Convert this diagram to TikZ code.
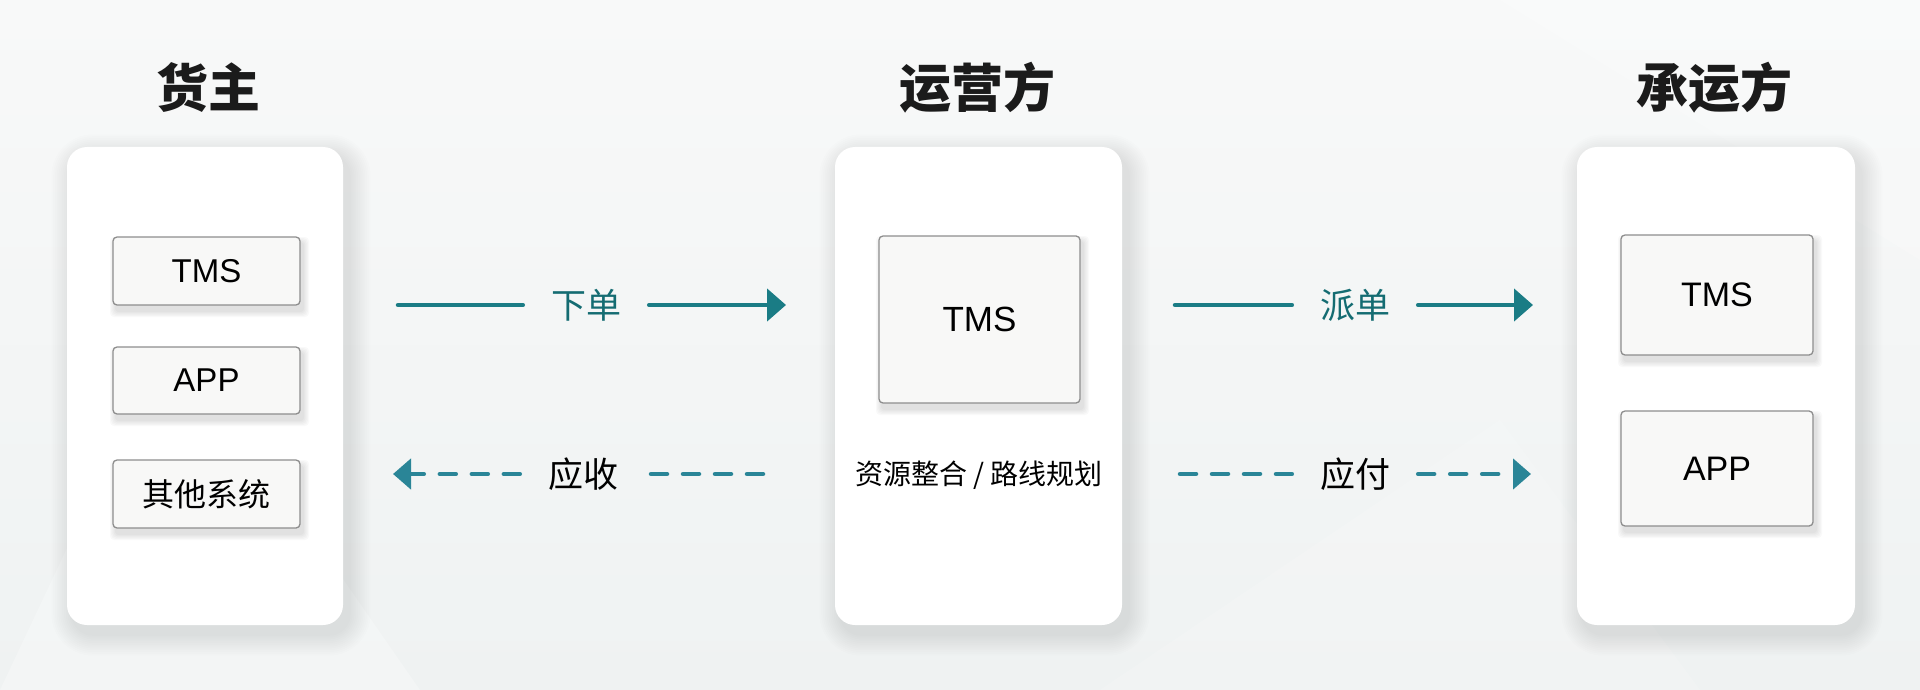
\documentclass[tikz,border=0pt]{standalone}
\usepackage{fontspec}
\setmainfont{Liberation Sans}
\newfontfamily\cjk{Noto Sans CJK SC}
\usetikzlibrary{arrows.meta}
\definecolor{bgtop}{HTML}{F8F9F9}
\definecolor{bgbot}{HTML}{EFF2F2}
\definecolor{solidteal}{HTML}{1A7C85}
\definecolor{dashteal}{HTML}{2A8597}
\definecolor{labteal}{HTML}{146C72}
\definecolor{boxgray}{HTML}{8E8E8E}
\definecolor{boxfill}{HTML}{F8F8F7}
\definecolor{titleblack}{HTML}{1B1B1B}
\newcommand\mkshadow[5]{%
  \foreach \i in {1,...,12}{%
    \pgfmathsetmacro\s{1.8*\i}%
    \pgfmathsetmacro\r{#5+\s}%
    \fill[black,opacity=0.008,rounded corners=\r pt]
      (#1+6-\s,#2+9-\s) rectangle (#3+6+\s,#4+9+\s);
  }%
}
\newcommand\mkboxshadow[4]{%
  \foreach \i in {1,...,5}{%
    \pgfmathsetmacro\s{1.2*\i}%
    \fill[black,opacity=0.022,rounded corners=4pt]
      (#1+3-\s,#2+6-\s) rectangle (#3+3+\s,#4+6+\s);
  }%
}
\begin{document}
\begin{tikzpicture}[x=1pt,y=-1pt,
  panel/.style={fill=white,draw=none,rounded corners=20pt,inner sep=0pt},
  ibox/.style={draw=boxgray,line width=1.3pt,fill=boxfill,rounded corners=4pt,inner sep=0pt,text=black},
  titletext/.style={font=\cjk\bfseries\fontsize{52}{60}\selectfont,text=titleblack,inner sep=0pt},
  flowlab/.style={font=\cjk\fontsize{35}{40}\selectfont,inner xsep=28pt,inner ysep=4pt},
  solidarrow/.style={draw=solidteal,line width=4.5pt,line cap=round},
  dasharrow/.style={draw=dashteal,line width=4.5pt,line cap=round,dash pattern=on 16pt off 16pt},
]
\useasboundingbox (0,0) rectangle (1920,690);
\shade[top color=bgtop,bottom color=bgbot] (0,0) rectangle (1920,690);
% faint facets
\fill[white,opacity=0.25] (0,690) -- (170,330) -- (420,690) -- cycle;
\fill[white,opacity=0.2] (1500,0) -- (1920,0) -- (1920,260) -- cycle;
\fill[white,opacity=0.15] (1100,690) -- (1500,420) -- (1700,690) -- cycle;

% panel shadows
\mkshadow{67}{147}{343}{625}{20}
\mkshadow{835}{147}{1122}{625}{20}
\mkshadow{1577}{147}{1855}{625}{20}

% panels
\node[panel,minimum width=276pt,minimum height=478pt] (p1) at (205,386) {};
\node[panel,minimum width=287pt,minimum height=478pt] (p2) at (978.5,386) {};
\node[panel,minimum width=278pt,minimum height=478pt] (p3) at (1716,386) {};

% titles
\node[titletext] (t1) at (208,88) {货主};
\node[titletext] (t2) at (977,88) {运营方};
\node[titletext] (t3) at (1714,88) {承运方};

% inner box shadows
\mkboxshadow{113}{237}{300}{305}
\mkboxshadow{113}{347}{300}{414}
\mkboxshadow{113}{460}{300}{528}
\mkboxshadow{879}{236}{1080}{403}
\mkboxshadow{1621}{235}{1813}{355}
\mkboxshadow{1621}{411}{1813}{526}

% left boxes
\node[ibox,minimum width=187pt,minimum height=68pt,font=\fontsize{33}{38}\selectfont] (l1) at (206.5,271) {TMS};
\node[ibox,minimum width=187pt,minimum height=67pt,font=\fontsize{33}{38}\selectfont] (l2) at (206.5,380.5) {APP};
\node[ibox,minimum width=187pt,minimum height=68pt,font=\cjk\fontsize{32}{38}\selectfont] (l3) at (206.5,494) {其他系统};

% middle box
\node[ibox,minimum width=201pt,minimum height=167pt,font=\fontsize{35}{40}\selectfont] (m1) at (979.5,319.5) {TMS};
\node[font=\cjk\fontsize{28}{32}\selectfont,text=black,inner sep=0pt] (m2) at (979,475) {资源整合 / 路线规划};

% right boxes
\node[ibox,minimum width=192pt,minimum height=120pt,font=\fontsize{34}{40}\selectfont] (r1) at (1717,295) {TMS};
\node[ibox,minimum width=192pt,minimum height=115pt,font=\fontsize{34}{40}\selectfont] (r2) at (1717,468.5) {APP};

% flow labels
\node[flowlab,text=labteal] (f1) at (586,305) {下单};
\node[flowlab,text=black] (f2) at (583,474) {应收};
\node[flowlab,text=labteal] (f3) at (1355,305) {派单};
\node[flowlab,text=black] (f4) at (1355,474) {应付};

% connector end points
\coordinate (f1s) at (398,305);
\coordinate (f1e) at (786,305);
\coordinate (f2s) at (763,474);
\coordinate (f2e) at (393,474);
\coordinate (f3s) at (1175,305);
\coordinate (f3e) at (1533,305);
\coordinate (f4s) at (1180,474);
\coordinate (f4e) at (1531,474);

% connectors
\draw[solidarrow] (f1s) -- (f1.west);
\draw[solidarrow,-{Triangle[length=19pt,width=32pt]}] (f1.east) -- (f1e);
\draw[solidarrow] (f3s) -- (f3.west);
\draw[solidarrow,-{Triangle[length=19pt,width=32pt]}] (f3.east) -- (f3e);

\draw[dasharrow] (f2s) -- (f2.east);
\draw[dasharrow,-{Triangle[length=18pt,width=30pt]}] (f2.west) -- (f2e);
\draw[dasharrow] (f4s) -- (f4.west);
\draw[dasharrow,-{Triangle[length=18pt,width=30pt]}] (f4.east) -- (f4e);
\end{tikzpicture}
\end{document}
